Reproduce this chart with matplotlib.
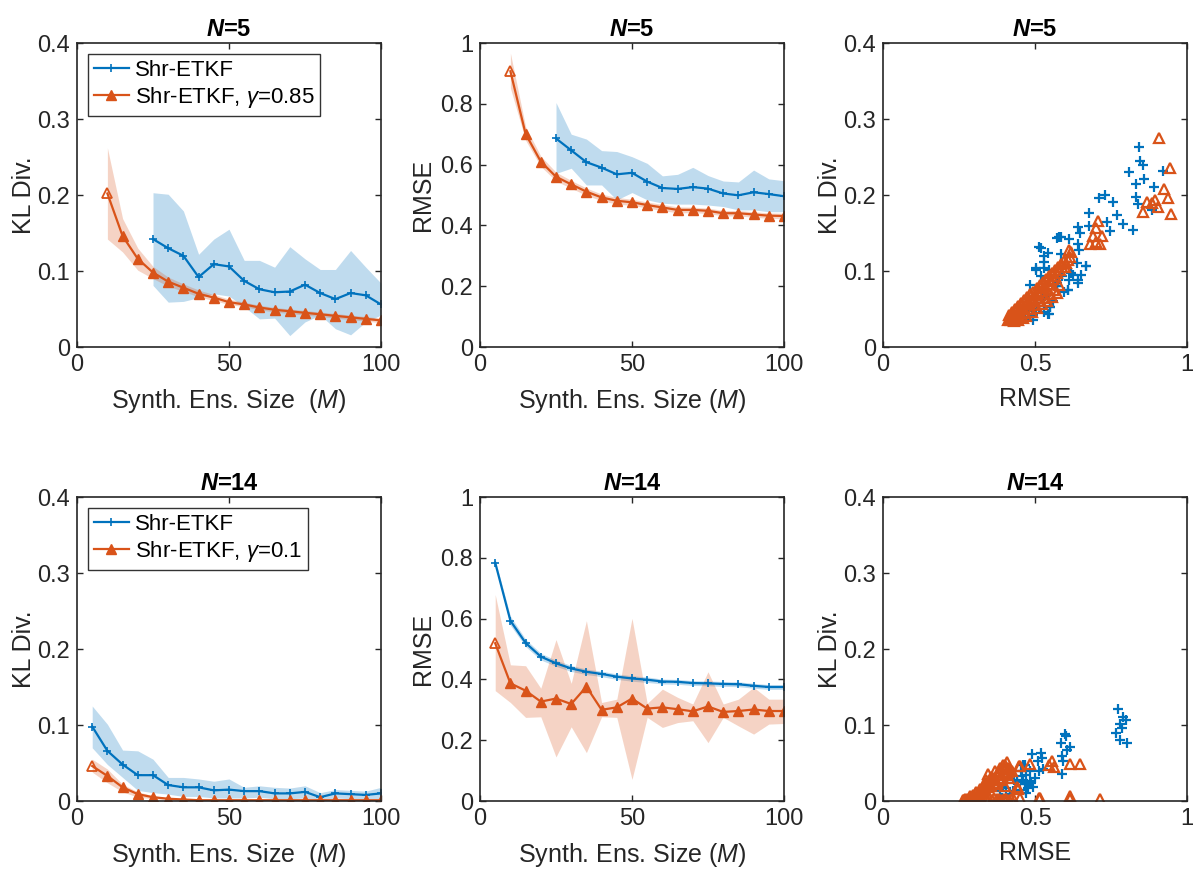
import numpy as np
import matplotlib
matplotlib.use("Agg")
import matplotlib.pyplot as plt

plt.rcParams['font.family'] = ['Liberation Sans', 'DejaVu Sans']
plt.rcParams['mathtext.fontset'] = 'custom'
plt.rcParams['mathtext.rm'] = 'Liberation Sans'
plt.rcParams['mathtext.it'] = 'Liberation Sans:italic'
plt.rcParams['mathtext.bf'] = 'Liberation Sans:bold'
plt.rcParams['mathtext.bfit'] = 'Liberation Sans:italic:bold'

BLUE = '#0072BD'
ORANGE = '#D95319'
AXC = '#262626'

# ---------------- data: N=5 ----------------
M5_blue = [25, 30, 35, 40, 45, 50, 55, 60, 65, 70, 75, 80, 85, 90, 95, 100]
kl5_blue = [0.142, 0.130, 0.120, 0.092, 0.109, 0.106, 0.087, 0.076, 0.072, 0.073, 0.082, 0.071, 0.063, 0.071, 0.068, 0.056]
kl5_blue_hi = [0.203, 0.201, 0.179, 0.122, 0.142, 0.155, 0.114, 0.114, 0.105, 0.132, 0.116, 0.102, 0.102, 0.127, 0.105, 0.084]
kl5_blue_lo = [0.081, 0.059, 0.060, 0.065, 0.070, 0.067, 0.053, 0.037, 0.038, 0.015, 0.033, 0.042, 0.024, 0.016, 0.033, 0.042]

M5_or = [10, 15, 20, 25, 30, 35, 40, 45, 50, 55, 60, 65, 70, 75, 80, 85, 90, 95, 100]
kl5_or = [0.202, 0.146, 0.116, 0.098, 0.086, 0.078, 0.070, 0.065, 0.059, 0.056, 0.052, 0.049, 0.047, 0.045, 0.043, 0.041, 0.039, 0.037, 0.035]
kl5_or_hi = [0.262, 0.169, 0.130, 0.106, 0.092, 0.083, 0.075, 0.069, 0.063, 0.059, 0.055, 0.052, 0.050, 0.048, 0.046, 0.044, 0.042, 0.040, 0.038]
kl5_or_lo = [0.142, 0.125, 0.101, 0.090, 0.080, 0.073, 0.066, 0.061, 0.056, 0.053, 0.049, 0.046, 0.044, 0.042, 0.040, 0.038, 0.036, 0.034, 0.032]

rmse5_blue = [0.686, 0.647, 0.608, 0.590, 0.568, 0.573, 0.544, 0.523, 0.520, 0.526, 0.521, 0.505, 0.499, 0.509, 0.503, 0.496]
rmse5_blue_hi = [0.804, 0.700, 0.684, 0.646, 0.643, 0.626, 0.604, 0.563, 0.568, 0.591, 0.564, 0.546, 0.543, 0.582, 0.553, 0.547]
rmse5_blue_lo = [0.571, 0.588, 0.533, 0.533, 0.484, 0.508, 0.484, 0.473, 0.470, 0.470, 0.467, 0.462, 0.451, 0.451, 0.445, 0.445]

rmse5_or = [0.907, 0.701, 0.610, 0.560, 0.535, 0.511, 0.492, 0.481, 0.476, 0.467, 0.459, 0.451, 0.451, 0.448, 0.440, 0.440, 0.436, 0.432, 0.431]
rmse5_or_hi = [0.967, 0.725, 0.628, 0.575, 0.548, 0.523, 0.503, 0.492, 0.486, 0.477, 0.469, 0.461, 0.460, 0.457, 0.449, 0.449, 0.445, 0.441, 0.440]
rmse5_or_lo = [0.852, 0.680, 0.594, 0.546, 0.522, 0.499, 0.481, 0.470, 0.466, 0.457, 0.449, 0.441, 0.442, 0.439, 0.431, 0.431, 0.427, 0.423, 0.422]

# ---------------- data: N=14 ----------------
M14 = [5, 10, 15, 20, 25, 30, 35, 40, 45, 50, 55, 60, 65, 70, 75, 80, 85, 90, 95, 100]
kl14_blue = [0.098, 0.066, 0.048, 0.034, 0.034, 0.021, 0.018, 0.018, 0.014, 0.015, 0.013, 0.013, 0.010, 0.010, 0.012, 0.005, 0.010, 0.009, 0.008, 0.010]
kl14_blue_hi = [0.125, 0.101, 0.067, 0.066, 0.055, 0.031, 0.031, 0.029, 0.026, 0.029, 0.018, 0.020, 0.018, 0.017, 0.020, 0.011, 0.015, 0.014, 0.013, 0.018]
kl14_blue_lo = [0.070, 0.048, 0.031, 0.014, 0.011, 0.009, 0.006, 0.006, 0.004, 0.004, 0.004, 0.005, 0.003, 0.003, 0.004, 0.001, 0.004, 0.003, 0.003, 0.003]

kl14_or = [0.046, 0.033, 0.018, 0.009, 0.005, 0.003, 0.002, 0.001, 0.001, 0.001, 0.001, 0.001, 0.001, 0.001, 0.001, 0.001, 0.001, 0.001, 0.001, 0.001]
kl14_or_hi = [0.055, 0.042, 0.022, 0.012, 0.007, 0.004, 0.003, 0.002, 0.002, 0.002, 0.002, 0.002, 0.002, 0.002, 0.002, 0.002, 0.002, 0.002, 0.002, 0.002]
kl14_or_lo = [0.038, 0.024, 0.012, 0.005, 0.003, 0.002, 0.001, 0.000, 0.000, 0.000, 0.000, 0.000, 0.000, 0.000, 0.000, 0.000, 0.000, 0.000, 0.000, 0.000]

rmse14_blue = [0.784, 0.593, 0.520, 0.475, 0.453, 0.436, 0.425, 0.418, 0.409, 0.403, 0.399, 0.393, 0.392, 0.388, 0.387, 0.385, 0.384, 0.379, 0.375, 0.375]
rmse14_blue_hi = [0.794, 0.608, 0.532, 0.486, 0.463, 0.446, 0.434, 0.427, 0.418, 0.412, 0.408, 0.401, 0.400, 0.396, 0.395, 0.393, 0.392, 0.387, 0.383, 0.383]
rmse14_blue_lo = [0.774, 0.578, 0.508, 0.464, 0.443, 0.426, 0.416, 0.409, 0.400, 0.394, 0.390, 0.385, 0.384, 0.380, 0.379, 0.377, 0.376, 0.371, 0.367, 0.367]

rmse14_or = [0.519, 0.387, 0.363, 0.327, 0.337, 0.319, 0.376, 0.300, 0.308, 0.337, 0.304, 0.308, 0.302, 0.295, 0.311, 0.293, 0.296, 0.301, 0.296, 0.296]
rmse14_or_hi = [0.679, 0.448, 0.445, 0.371, 0.531, 0.387, 0.593, 0.324, 0.335, 0.601, 0.321, 0.368, 0.341, 0.319, 0.425, 0.319, 0.335, 0.374, 0.335, 0.335]
rmse14_or_lo = [0.363, 0.324, 0.275, 0.277, 0.145, 0.244, 0.159, 0.277, 0.275, 0.071, 0.275, 0.242, 0.258, 0.264, 0.192, 0.275, 0.247, 0.220, 0.253, 0.255]

# ---------------- scatter data (RMSE, KL) ----------------
sc5_blue_rmse = [0.842, 0.845, 0.856, 0.810, 0.922, 0.859, 0.832, 0.891, 0.832, 0.840, 0.884, 0.712, 0.730, 0.758, 0.678,
                 0.771, 0.790, 0.823, 0.738, 0.747, 0.643, 0.648, 0.676, 0.580, 0.571, 0.613, 0.514, 0.543, 0.531, 0.645,
                 0.585, 0.668, 0.503, 0.531, 0.546, 0.650, 0.620, 0.643, 0.613, 0.521, 0.568, 0.610, 0.541, 0.549, 0.547,
                 0.531, 0.494, 0.522, 0.505, 0.574, 0.590, 0.638, 0.491, 0.494, 0.544, 0.549, 0.533, 0.572, 0.609,
                 0.643, 0.669, 0.531, 0.520, 0.586, 0.643, 0.502, 0.485, 0.478, 0.512, 0.560, 0.595, 0.625, 0.468]
sc5_blue_kl = [0.263, 0.245, 0.240, 0.230, 0.232, 0.221, 0.215, 0.210, 0.198, 0.188, 0.180, 0.196, 0.200, 0.191, 0.176,
               0.174, 0.162, 0.154, 0.164, 0.152, 0.158, 0.150, 0.159, 0.145, 0.144, 0.142, 0.131, 0.124, 0.120, 0.127,
               0.122, 0.107, 0.104, 0.104, 0.101, 0.095, 0.097, 0.084, 0.088, 0.093, 0.080, 0.075, 0.070, 0.053, 0.043,
               0.046, 0.035, 0.063, 0.058, 0.084, 0.093, 0.110, 0.048, 0.042, 0.044, 0.053, 0.067, 0.080, 0.075,
               0.088, 0.107, 0.112, 0.130, 0.145, 0.135, 0.101, 0.082, 0.040, 0.050, 0.060, 0.072, 0.095, 0.038]

sc5_or_rmse = [0.909, 0.944, 0.924, 0.938, 0.948, 0.867, 0.895, 0.884, 0.906, 0.854, 0.708, 0.701, 0.720, 0.692, 0.681,
               0.701, 0.714, 0.613, 0.607, 0.602, 0.620, 0.616, 0.598,
               0.410, 0.418, 0.425, 0.432, 0.440, 0.448, 0.455, 0.462, 0.470, 0.478, 0.486, 0.494, 0.502, 0.510,
               0.518, 0.526, 0.534, 0.542, 0.550, 0.558, 0.566, 0.574, 0.582, 0.590,
               0.415, 0.425, 0.435, 0.445, 0.455, 0.465, 0.475, 0.485, 0.495, 0.505, 0.515, 0.525, 0.535, 0.545,
               0.555, 0.565, 0.575, 0.585, 0.595,
               0.420, 0.436, 0.452, 0.468, 0.484, 0.500, 0.516, 0.532, 0.548, 0.564, 0.580,
               0.430, 0.445, 0.460, 0.472, 0.490, 0.508, 0.522, 0.540, 0.556, 0.572]
sc5_or_kl = [0.275, 0.236, 0.208, 0.196, 0.175, 0.191, 0.193, 0.189, 0.184, 0.178, 0.166, 0.157, 0.146, 0.146, 0.136,
             0.138, 0.136, 0.128, 0.114, 0.110, 0.125, 0.118, 0.105,
             0.036, 0.038, 0.040, 0.042, 0.045, 0.048, 0.050, 0.053, 0.056, 0.059, 0.062, 0.065, 0.068, 0.071,
             0.074, 0.077, 0.080, 0.083, 0.087, 0.090, 0.094, 0.097, 0.101, 0.105,
             0.042, 0.046, 0.050, 0.054, 0.058, 0.062, 0.066, 0.070, 0.073, 0.077, 0.081, 0.085, 0.089, 0.093,
             0.097, 0.101, 0.105, 0.109, 0.113,
             0.036, 0.037, 0.040, 0.045, 0.050, 0.055, 0.060, 0.065, 0.070, 0.075, 0.082,
             0.034, 0.035, 0.038, 0.041, 0.046, 0.051, 0.057, 0.061, 0.066, 0.071]

sc14_blue_rmse = [0.774, 0.790, 0.799, 0.780, 0.785, 0.766, 0.778, 0.802, 0.599, 0.602, 0.587, 0.615, 0.604, 0.590,
                  0.592, 0.590, 0.489, 0.519, 0.522, 0.511, 0.525, 0.514, 0.467, 0.483, 0.472, 0.494, 0.488, 0.461,
                  0.406, 0.428, 0.450, 0.467, 0.478, 0.483, 0.456, 0.384, 0.417, 0.440, 0.395, 0.470, 0.455, 0.500,
                  0.473, 0.430, 0.390, 0.461]
sc14_blue_kl = [0.121, 0.111, 0.107, 0.101, 0.096, 0.090, 0.080, 0.076, 0.088, 0.085, 0.076, 0.071, 0.067, 0.059,
                0.052, 0.036, 0.062, 0.063, 0.057, 0.052, 0.042, 0.040, 0.048, 0.040, 0.034, 0.019, 0.024, 0.028,
                0.017, 0.013, 0.015, 0.022, 0.017, 0.026, 0.033, 0.013, 0.009, 0.025, 0.020, 0.010, 0.040, 0.030,
                0.022, 0.028, 0.004, 0.048]

sc14_or_rmse = [0.484, 0.555, 0.547, 0.562, 0.615, 0.648, 0.447, 0.414, 0.408, 0.445, 0.450, 0.513, 0.614, 0.615,
                0.714, 0.346, 0.412, 0.423, 0.450, 0.400, 0.443, 0.406, 0.384, 0.373, 0.335, 0.318, 0.297, 0.276,
                0.265, 0.441, 0.516, 0.407, 0.400,
                0.262, 0.270, 0.278, 0.286, 0.294, 0.302, 0.310, 0.318, 0.326, 0.334, 0.342, 0.350, 0.358, 0.366,
                0.374, 0.382, 0.390, 0.398, 0.406, 0.414, 0.422, 0.430,
                0.285, 0.295, 0.305, 0.315, 0.325, 0.335, 0.345, 0.355, 0.365, 0.375, 0.385, 0.395, 0.405, 0.415,
                0.305, 0.320, 0.335, 0.350, 0.362, 0.374, 0.386, 0.398, 0.410,
                0.340, 0.355, 0.370, 0.385, 0.395, 0.402]
sc14_or_kl = [0.049, 0.053, 0.048, 0.045, 0.049, 0.049, 0.046, 0.042, 0.035, 0.017, 0.004, 0.004, 0.006, 0.003,
              0.002, 0.035, 0.044, 0.040, 0.046, 0.020, 0.016, 0.003, 0.001, 0.022, 0.020, 0.011, 0.007, 0.002,
              0.001, 0.018, 0.004, 0.051, 0.047,
              0.001, 0.002, 0.001, 0.003, 0.002, 0.004, 0.002, 0.003, 0.001, 0.004, 0.002, 0.003, 0.001, 0.004,
              0.002, 0.003, 0.001, 0.002, 0.003, 0.001, 0.002, 0.001,
              0.006, 0.008, 0.010, 0.012, 0.014, 0.016, 0.018, 0.020, 0.022, 0.024, 0.028, 0.030, 0.034, 0.030,
              0.012, 0.016, 0.022, 0.026, 0.030, 0.034, 0.038, 0.042, 0.038,
              0.028, 0.032, 0.040, 0.044, 0.048, 0.042]

xticks_M = [0, 50, 100]
xticklabels_M = ['0', '50', '100']
yticks_kl = [0, 0.1, 0.2, 0.3, 0.4]
yticklabels_kl = ['0', '0.1', '0.2', '0.3', '0.4']
yticks_rmse = [0, 0.2, 0.4, 0.6, 0.8, 1.0]
yticklabels_rmse = ['0', '0.2', '0.4', '0.6', '0.8', '1']
xticks_sc = [0, 0.5, 1.0]
xticklabels_sc = ['0', '0.5', '1']

titles = [r'$\mathbfit{N}$=5', r'$\mathbfit{N}$=14']
legend_labels = [['Shr-ETKF', r'Shr-ETKF, $\gamma$=0.85'], ['Shr-ETKF', r'Shr-ETKF, $\gamma$=0.1']]

TICK_FS = 17
LABEL_FS = 18
TITLE_FS = 17
LEG_FS = 16

# ---------------- figure ----------------
fig = plt.figure(figsize=(12, 8.86), dpi=100)
W, H = 1200, 886
lefts = [77, 480, 883]
tops = [43, 497]
aw, ah = 304, 304


def make_ax(col, row):
    l = lefts[col] / W
    b = (H - tops[row] - ah) / H
    ax = fig.add_axes([l, b, aw / W, ah / H])
    for s in ax.spines.values():
        s.set_color(AXC)
        s.set_linewidth(1.2)
    ax.tick_params(direction='in', top=True, right=True, length=4, width=1.0,
                   colors=AXC, labelsize=TICK_FS, labelcolor=AXC, pad=5)
    return ax


def style_M(ax):
    ax.set_xlim(0, 100)
    ax.set_xticks(xticks_M)
    ax.set_xticklabels(xticklabels_M)


def line_panel(ax, xb, yb, lob, hib, xo, yo, loo, hio):
    ax.fill_between(xb, lob, hib, color=BLUE, alpha=0.25, lw=0)
    ax.fill_between(xo, loo, hio, color=ORANGE, alpha=0.25, lw=0)
    l1, = ax.plot(xb, yb, '-', color=BLUE, lw=1.6, marker='+', ms=6, mew=1.2)
    l2, = ax.plot(xo, yo, '-', color=ORANGE, lw=1.6, marker='^', ms=6.5, mew=1.0,
                  markevery=slice(1, None))
    ax.plot(xo[:1], yo[:1], linestyle='none', marker='^', ms=7, mfc='none', mec=ORANGE, mew=1.3)
    return l1, l2


def scatter_panel(ax, bx, by, ox, oy):
    ax.plot(bx, by, linestyle='none', marker='+', ms=7, mew=1.6, color=BLUE)
    ax.plot(ox, oy, linestyle='none', marker='^', ms=7.5, mew=1.6, mfc='none', mec=ORANGE)
    ax.set_xlim(0, 1)
    ax.set_ylim(0, 0.4)
    ax.set_xticks(xticks_sc)
    ax.set_xticklabels(xticklabels_sc)
    ax.set_yticks(yticks_kl)
    ax.set_yticklabels(yticklabels_kl)
    ax.set_xlabel('RMSE', fontsize=LABEL_FS, color=AXC, labelpad=8)
    ax.set_ylabel('KL Div.', fontsize=LABEL_FS, color=AXC, labelpad=1)


datasets = [
    dict(kl=(M5_blue, kl5_blue, kl5_blue_lo, kl5_blue_hi, M5_or, kl5_or, kl5_or_lo, kl5_or_hi),
         rm=(M5_blue, rmse5_blue, rmse5_blue_lo, rmse5_blue_hi, M5_or, rmse5_or, rmse5_or_lo, rmse5_or_hi),
         sc=(sc5_blue_rmse, sc5_blue_kl, sc5_or_rmse, sc5_or_kl)),
    dict(kl=(M14, kl14_blue, kl14_blue_lo, kl14_blue_hi, M14, kl14_or, kl14_or_lo, kl14_or_hi),
         rm=(M14, rmse14_blue, rmse14_blue_lo, rmse14_blue_hi, M14, rmse14_or, rmse14_or_lo, rmse14_or_hi),
         sc=(sc14_blue_rmse, sc14_blue_kl, sc14_or_rmse, sc14_or_kl)),
]

for row, d in enumerate(datasets):
    # KL panel
    ax = make_ax(0, row)
    l1, l2 = line_panel(ax, *d['kl'])
    style_M(ax)
    ax.set_ylim(0, 0.4)
    ax.set_yticks(yticks_kl)
    ax.set_yticklabels(yticklabels_kl)
    ax.set_xlabel(r'Synth. Ens. Size  ($M$)', fontsize=LABEL_FS, color=AXC, labelpad=8)
    ax.set_ylabel('KL Div.', fontsize=LABEL_FS, color=AXC, labelpad=1)
    ax.set_title(titles[row], fontsize=TITLE_FS, fontweight='bold', pad=5)
    leg = ax.legend([l1, l2], legend_labels[row], loc='upper left', fontsize=LEG_FS,
                    frameon=True, fancybox=False, borderaxespad=0.5, handlelength=1.6,
                    borderpad=0.25, labelspacing=0.2, handletextpad=0.25)
    leg.get_frame().set_edgecolor('black')
    leg.get_frame().set_linewidth(1.0)

    # RMSE panel
    ax = make_ax(1, row)
    line_panel(ax, *d['rm'])
    style_M(ax)
    ax.set_ylim(0, 1)
    ax.set_yticks(yticks_rmse)
    ax.set_yticklabels(yticklabels_rmse)
    ax.set_xlabel(r'Synth. Ens. Size ($M$)', fontsize=LABEL_FS, color=AXC, labelpad=8)
    ax.set_ylabel('RMSE', fontsize=LABEL_FS, color=AXC)
    ax.set_title(titles[row], fontsize=TITLE_FS, fontweight='bold', pad=5)

    # scatter panel
    ax = make_ax(2, row)
    scatter_panel(ax, *d['sc'])
    ax.set_title(titles[row], fontsize=TITLE_FS, fontweight='bold', pad=5)

fig.savefig('out.png', dpi=100)
